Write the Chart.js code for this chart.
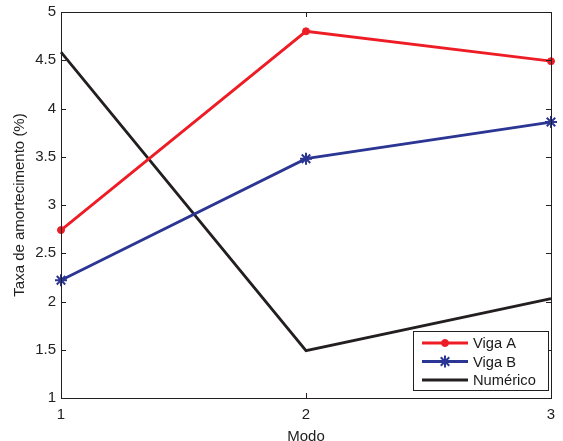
<!DOCTYPE html>
<html>
<head>
<meta charset="utf-8">
<script src="https://cdn.jsdelivr.net/npm/chart.js@4"></script>
<style>
html,body{margin:0;padding:0;background:#fff;}
#wrap{width:563px;height:441px;}
</style>
</head>
<body>
<div id="wrap"><canvas id="c" width="563" height="441"></canvas></div>
<script>
const modes = [1, 2, 3];
const vigaA = [2.74, 4.80, 4.49];
const vigaB = [2.22, 3.48, 3.86];
const numerico = [4.585, 1.49, 2.03];
const seriesNames = ['Viga A', 'Viga B', 'Numérico'];
const yTicks = [1, 1.5, 2, 2.5, 3, 3.5, 4, 4.5, 5];

const FONT = 'Liberation Sans, Arial, Helvetica, sans-serif';
const RED = '#ee1c25', BLUE = '#2b3593', BLACK = '#231f20';

function pts(vals){ return vals.map((v,i)=>({x:modes[i], y:v})); }

const boxPlugin = {
  id:'box',
  afterDraw(chart){
    const {ctx, chartArea:a, scales} = chart;
    ctx.save();
    ctx.strokeStyle = BLACK; ctx.lineWidth = 1;
    ctx.strokeRect(a.left+0.5, a.top+0.5, a.right-a.left, a.bottom-a.top);
    const L = 5;
    ctx.beginPath();
    yTicks.forEach(t=>{
      const y = Math.round(scales.y.getPixelForValue(t))+0.5;
      ctx.moveTo(a.left, y); ctx.lineTo(a.left+L, y);
      ctx.moveTo(a.right, y); ctx.lineTo(a.right-L, y);
    });
    modes.forEach(t=>{
      const x = Math.round(scales.x.getPixelForValue(t))+0.5;
      ctx.moveTo(x, a.bottom); ctx.lineTo(x, a.bottom-L);
      ctx.moveTo(x, a.top); ctx.lineTo(x, a.top+L);
    });
    ctx.stroke();
    // legend
    const lx = 413, ly = 331, lw = 135, lh = 59;
    ctx.fillStyle = '#fff';
    ctx.fillRect(lx, ly, lw, lh);
    ctx.strokeStyle = BLACK; ctx.lineWidth = 1;
    ctx.strokeRect(lx+0.5, ly+0.5, lw, lh);
    ctx.font = '14.7px ' + FONT;
    ctx.textBaseline = 'middle';
    chart.data.datasets.forEach((ds, i)=>{
      const yy = ly + 12 + i*18.5;
      ctx.strokeStyle = ds.borderColor; ctx.lineWidth = 2.8;
      ctx.beginPath(); ctx.moveTo(lx+9, yy); ctx.lineTo(lx+55, yy); ctx.stroke();
      if (ds.pointRadius > 0) {
        ctx.fillStyle = ds.borderColor;
        ctx.strokeStyle = ds.borderColor;
        ctx.lineWidth = ds.pointBorderWidth || 1;
        Chart.helpers.drawPoint(ctx, {pointStyle: ds.pointStyle, radius: ds.pointRadius, borderWidth: ds.pointBorderWidth || 1, rotation:0}, lx+32, yy);
      }
      ctx.fillStyle = '#1a1a1a';
      ctx.fillText(ds.label, lx+60, yy+1);
    });
    ctx.restore();
  }
};

new Chart(document.getElementById('c'), {
  type:'line',
  data:{
    datasets:[
      {label:seriesNames[0], data:pts(vigaA), borderColor:RED, backgroundColor:RED, borderWidth:2.8, pointStyle:'circle', pointRadius:3.5, pointBorderWidth:1, pointBackgroundColor:RED, pointBorderColor:RED, tension:0, clip:false},
      {label:seriesNames[1], data:pts(vigaB), borderColor:BLUE, backgroundColor:BLUE, borderWidth:2.8, pointStyle:'star', pointRadius:6, pointBorderWidth:2, pointBackgroundColor:BLUE, pointBorderColor:BLUE, tension:0, clip:false},
      {label:seriesNames[2], data:pts(numerico), borderColor:BLACK, backgroundColor:BLACK, borderWidth:2.8, pointRadius:0, tension:0, clip:false}
    ]
  },
  options:{
    responsive:false, animation:false,
    layout:{padding:{top:12, right:12, left:0, bottom:0}},
    plugins:{legend:{display:false}, tooltip:{enabled:false}},
    scales:{
      x:{type:'linear', min:1, max:3,
        afterBuildTicks(s){ s.ticks = modes.map(v=>({value:v})); },
        afterFit(s){ s.height = 43; s.paddingLeft = 0; s.paddingRight = 0; },
        grid:{display:false, drawTicks:false}, border:{display:false},
        ticks:{color:'#222', font:{family:FONT, size:15}, padding:8, callback:(v)=>String(v)},
        title:{display:true, text:'Modo', color:'#222', font:{family:FONT, size:15}, padding:{top:0,bottom:-5}}
      },
      y:{type:'linear', min:1, max:5,
        afterBuildTicks(s){ s.ticks = yTicks.map(v=>({value:v})); },
        afterFit(s){ s.width = 61; s.paddingTop = 0; s.paddingBottom = 0; },
        grid:{display:false, drawTicks:false}, border:{display:false},
        ticks:{color:'#222', font:{family:FONT, size:15}, padding:5, callback:(v)=>String(v)},
        title:{display:true, text:'Taxa de amortecimento (%)', color:'#222', font:{family:FONT, size:15}, padding:{top:11,bottom:0}}
      }
    }
  },
  plugins:[boxPlugin]
});
</script>
</body>
</html>
